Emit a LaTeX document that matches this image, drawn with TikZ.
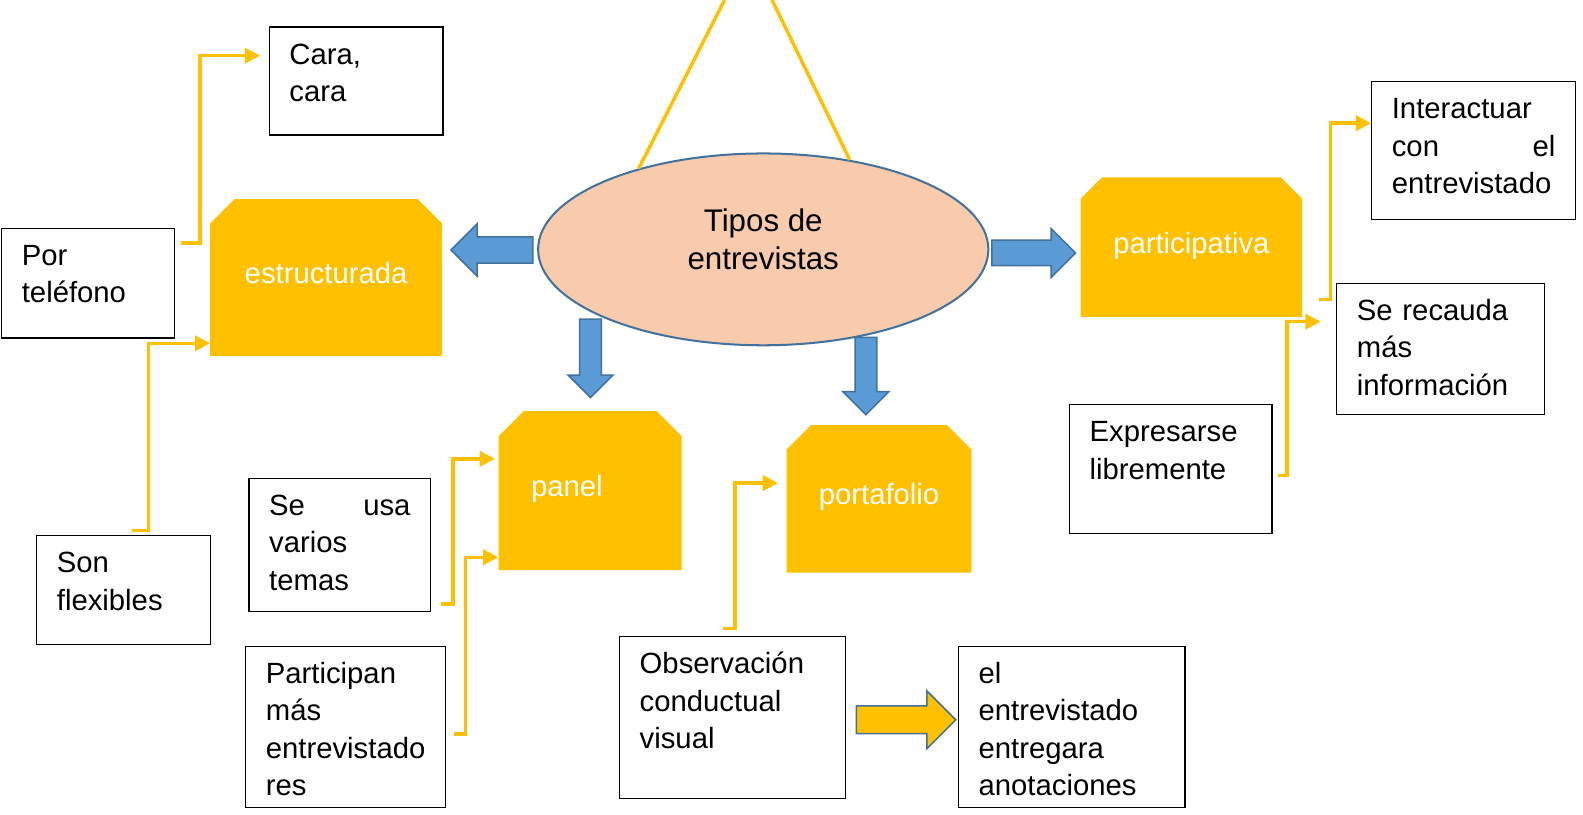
\documentclass[tikz,border=0pt]{standalone}
\usepackage{fontspec}
\setmainfont{Liberation Sans}
\usepackage{tikz}
\usetikzlibrary{
    shapes.geometric, shapes.arrows,
    arrows.meta, positioning, calc
}
\definecolor{colOro}{RGB}{255, 192, 0}
\definecolor{colAzul}{RGB}{91, 155, 213}
\definecolor{colAzulBorde}{RGB}{65, 113, 156}
\definecolor{colDurazno}{RGB}{248, 203, 173}

% texto pegado arriba dentro de la caja
\newcommand{\cajatexto}[2]{\parbox[c][#1][t]{\linewidth}{\raggedright\vspace*{11pt}\strut #2}}

\tikzset{
    caja/.style={draw=black, line width=1.3pt, fill=white, anchor=north west,
        inner xsep=20pt, inner ysep=0pt, align=left},
    corte/.store in=\corte, corte=24pt,
    tipo/.style={anchor=north west, fill=white, text=white, inner sep=0pt,
        text height=21pt, text depth=9pt,
        path picture={
            \fill[colOro] ([yshift=-\corte]path picture bounding box.north west)
                -- ([xshift=\corte]path picture bounding box.north west)
                -- ([xshift=-\corte]path picture bounding box.north east)
                -- ([yshift=-\corte]path picture bounding box.north east)
                -- (path picture bounding box.south east)
                -- (path picture bounding box.south west) -- cycle;
        }},
    flecha/.style={draw=colOro, line width=3.4pt, -{Triangle[length=15pt, width=15pt]}},
    bloque/.style={single arrow, draw=colAzulBorde, fill=colAzul, line width=1.5pt,
        inner xsep=0pt, anchor=tail, single arrow tip angle=90}
}

\begin{document}
\begin{tikzpicture}[x=1pt, y=-1pt, every node/.style={font=\fontsize{29}{37}\selectfont}]
    \useasboundingbox (0,0) rectangle (1568,807);

    % --- Centro ---
    \node[ellipse, draw=colAzulBorde, line width=2pt, fill=colDurazno, inner sep=0pt,
        minimum width=446pt, minimum height=190pt, font=\fontsize{31}{38}\selectfont]
        (tipos) at (756,247) {\raisebox{0.5pt}[0pt][0pt]{\begin{tabular}{@{}c@{}}Tipos de\\entrevistas\end{tabular}}};

    % Lineas que vienen de arriba
    \coordinate (arribaIzq) at (717.7,0);
    \coordinate (arribaDer) at (764.7,0);
    \draw[colOro, line width=3.4pt] (arribaIzq) -- (tipos.147);
    \draw[colOro, line width=3.4pt] (arribaDer) -- (tipos.46);

    % Flechas azules
    \node[bloque, inner ysep=12.2pt, single arrow head extend=13pt, minimum height=81pt, rotate=180] (flechaIzq) at (528.5,247.6) {};
    \node[bloque, inner ysep=11.9pt, single arrow head extend=11.6pt, minimum height=83pt] (flechaDer) at (981.6,250.5) {};
    \node[bloque, inner ysep=10.1pt, single arrow head extend=11.4pt, minimum height=77.7pt, rotate=-90] (flechaPanel) at (584.9,315.3) {};
    \node[bloque, inner ysep=10pt, single arrow head extend=12pt, minimum height=76.5pt, rotate=-90] (flechaPort) at (857.7,333.5) {};

    % --- Tipos ---
    \node[tipo, minimum width=229.6pt, minimum height=155.6pt] (estructurada) at (208,197) {estructurada};
    \node[tipo, corte=21pt, minimum width=219.4pt, minimum height=138.1pt] (participativa) at (1070.2,175.6) {participativa};
    \node[tipo, corte=25pt, minimum width=181.4pt, minimum height=157.6pt] (panel) at (493.6,407) {panel\hspace*{46pt}};
    \node[tipo, minimum width=183pt, minimum height=146pt] (portafolio) at (779,421) {portafolio};

    % --- Cajas ---
    \node[caja, text width=132pt] (cara) at (266,26) {\cajatexto{107pt}{Cara,\\cara}};
    \node[caja, text width=131.3pt] (telefono) at (1,225.5) {\cajatexto{108.5pt}{Por\\teléfono}};
    \node[caja, text width=132.3pt] (flexibles) at (35.7,530) {\cajatexto{108pt}{Son\\flexibles}};
    \node[caja, text width=140pt] (usa) at (246,473) {\cajatexto{132pt}{Se \hfill usa\\varios\\temas}};
    \node[caja, text width=158pt] (participan) at (242.7,639.5) {\cajatexto{159.5pt}{Participan\\más\\entrevistado\\res}};
    \node[caja, text width=184pt] (observacion) at (613,630) {\cajatexto{160pt}{Observación\\conductual\\visual}};
    \node[caja, text width=184.5pt] (anotaciones) at (948.7,639.5) {\cajatexto{159.5pt}{el\\entrevistado\\entregara\\anotaciones}};
    \node[caja, text width=162pt] (interactuar) at (1358,80) {\cajatexto{137pt}{Interactuar\\con \hfill el\\entrevistado}};
    \node[caja, text width=165.6pt] (recauda) at (1323.4,280) {\cajatexto{130pt}{Se recauda\\más\\información}};
    \node[caja, text width=160.6pt] (expresarse) at (1058.6,400) {\cajatexto{128pt}{Expresarse\\libremente}};

    % Flecha amarilla gruesa
    \node[bloque, fill=colOro, inner ysep=13pt, single arrow head extend=15pt, minimum height=98.5pt] (flechaObs) at (847.5,713) {};

    % --- Conectores ---
    \draw[flecha] ([xshift=6pt, yshift=-15pt]telefono.north east) -- ++(18.7,0) |- ([xshift=-8.5pt, yshift=25pt]cara.west);
    \draw[flecha] ([xshift=8pt, yshift=4.5pt]flexibles.north) -- ++(16.5,0) |- ([yshift=13pt]estructurada.south west);
    \draw[flecha] ([xshift=10pt, yshift=8pt]usa.south east) -- ++(11.5,0) |- ([xshift=-3.5pt, yshift=-47.5pt]panel.north west);
    \draw[flecha] ([xshift=8pt, yshift=-7pt]participan.east) -- ++(11.3,0) |- ([yshift=13pt]panel.south west);
    \draw[flecha] ([xshift=-9.5pt, yshift=7.5pt]observacion.north) -- ++(12,0) |- ([xshift=-8.5pt, yshift=-57.5pt]portafolio.north west);
    \draw[flecha] ([xshift=16pt, yshift=17.7pt]participativa.south east) -- ++(12,0) |- ([yshift=-42pt]interactuar.north west);
    \draw[flecha] ([xshift=5pt, yshift=-6.5pt]expresarse.east) -- ++(9.4,0) |- ([xshift=-15.4pt, yshift=-38.6pt]recauda.north west);

\end{tikzpicture}
\end{document}
